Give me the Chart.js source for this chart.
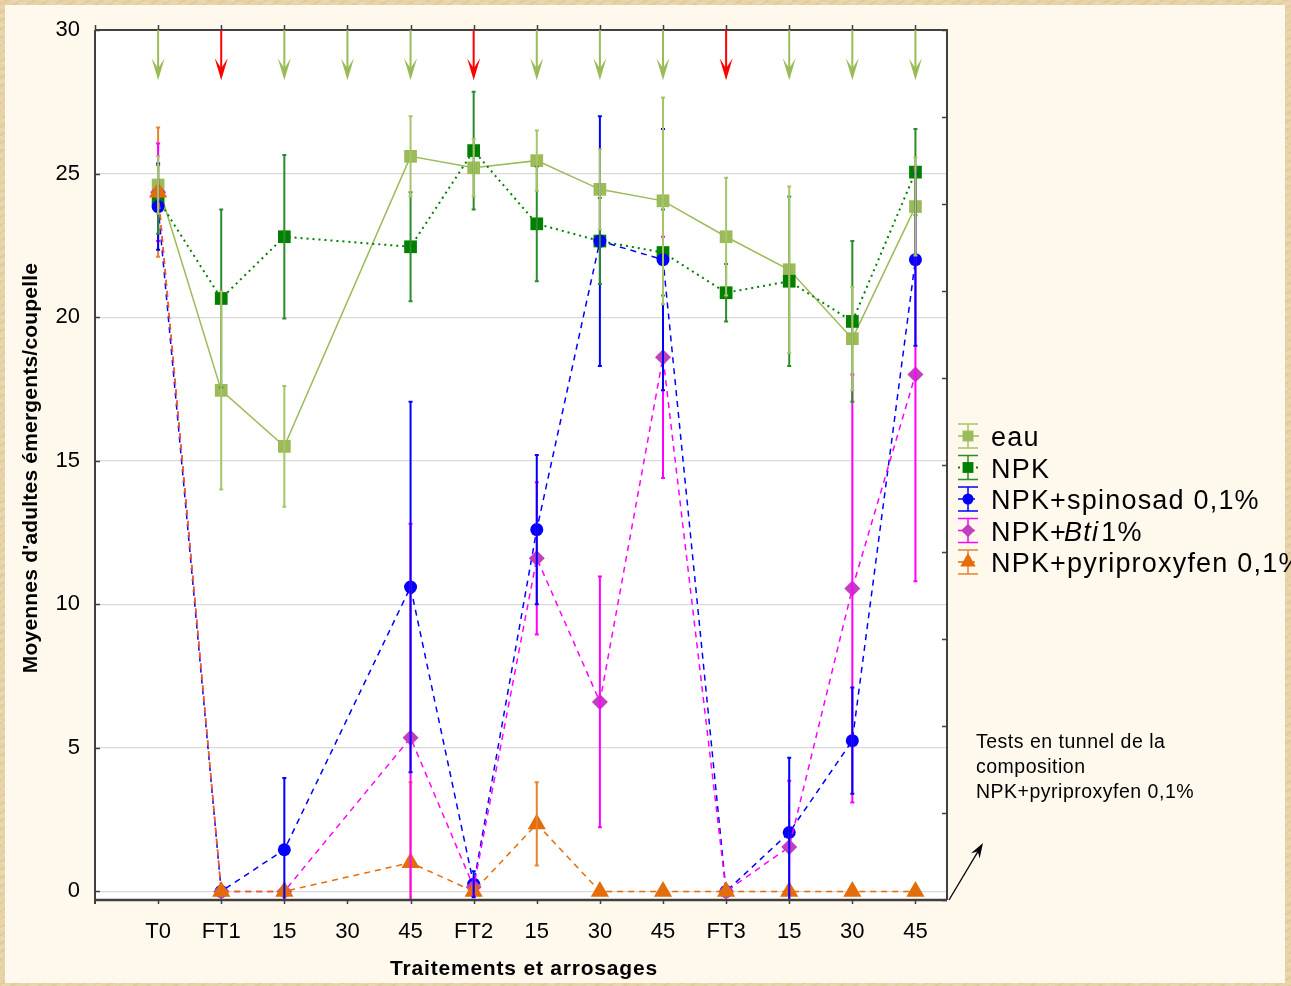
<!DOCTYPE html>
<html>
<head>
<meta charset="utf-8">
<script src="https://cdn.jsdelivr.net/npm/chart.js@4.4.1/dist/chart.umd.min.js"></script>
<style>
    html, body { margin: 0; padding: 0; }
    body {
        width: 1291px; height: 986px; overflow: hidden; position: relative;
        background-color: #e8d3a6;
        background-image:
            repeating-linear-gradient(17deg, rgba(255,255,255,0.10) 0 3px, rgba(0,0,0,0) 3px 9px),
            repeating-linear-gradient(-31deg, rgba(160,120,60,0.10) 0 2px, rgba(0,0,0,0) 2px 7px);
    }
    #panel { position: absolute; left: 5px; top: 5px; width: 1280px; height: 978px; background: #fef9ec; }
    #wrap { position: absolute; left: 0; top: 0; width: 1291px; height: 986px; }
</style>
</head>
<body>
<div id="panel"></div>
<div id="wrap"><canvas id="chart"></canvas></div>
<script>
// categories (traitements et arrosages)
var labels = ['T0', 'FT1', '15', '30', '45', 'FT2', '15', '30', '45', 'FT3', '15', '30', '45'];
var yTicks = [0, 5, 10, 15, 20, 25, 30];

// moyennes et barres d'erreur
var eau      = [24.6, 17.45, 15.5, null, 25.6, 25.2, 25.45, 24.45, 24.05, 22.8, 21.65, 19.25, 23.85];
var eauErr   = [1.0, 3.45, 2.1, null, 1.4, 1.0, 1.05, 1.4, 3.6, 2.05, 2.9, 1.8, 1.7];
var npk      = [24.1, 20.65, 22.8, null, 22.45, 25.8, 23.25, 22.65, 22.25, 20.85, 21.25, 19.85, 25.05];
var npkErr   = [1.2, 3.1, 2.85, null, 1.9, 2.05, 2.0, 1.5, 1.5, 1.0, 2.95, 2.8, 1.5];
var spinosad = [23.85, 0, 1.45, null, 10.6, 0.25, 12.6, 22.65, 22.0, 0, 2.05, 5.25, 22.0];
var spinErr  = [1.5, 0, 2.5, null, 6.45, 0.45, 2.6, 4.35, 4.55, 0, 2.6, 1.85, 3.0];
var bti      = [24.35, 0, 0, null, 5.35, 0.15, 11.6, 6.6, 18.6, 0, 1.55, 10.55, 18.0];
var btiErr   = [1.7, 0, 0, null, 7.45, 0.3, 2.65, 4.37, 4.2, 0, 2.3, 7.45, 7.2];
var pyri     = [24.35, 0, 0, null, 1.0, 0, 2.35, 0, 0, 0, 0, 0, 0];
var pyriErr  = [2.25, 0, 0, null, 2.8, 0, 1.45, 0, 0, 0, 0, 0, 0];

var arrowTip = 28.25; // bout des flèches en haut
var FONT = '"Liberation Sans", Arial, sans-serif';

function pts(arr) {
    return arr.map(function(v, i) { return { x: i, y: v }; });
}

var datasets = [
    { label: 'eau', data: pts(eau), err: eauErr, errColor: '#a8c46a',
      borderColor: '#9bbb59', backgroundColor: '#9bbb59', borderWidth: 1.5,
      pointStyle: 'rect', pointRadius: 9, order: 4 },
    { label: 'NPK', data: pts(npk), err: npkErr, errColor: '#2c8c2c',
      borderColor: '#008000', backgroundColor: '#008000', borderWidth: 2, borderDash: [2, 4],
      pointStyle: 'rect', pointRadius: 9, order: 3 },
    { label: 'NPK+spinosad 0,1%', data: pts(spinosad), err: spinErr, errColor: '#0000ff',
      borderColor: '#0000ff', backgroundColor: '#0000ff', borderWidth: 1.5, borderDash: [6, 5],
      pointStyle: 'circle', pointRadius: 6.5, order: 2 },
    { label: 'NPK+Bti 1%', data: pts(bti), err: btiErr, errColor: '#ff00ff',
      borderColor: '#ff00ff', backgroundColor: '#c040c0', borderWidth: 1.5, borderDash: [6, 5],
      pointStyle: 'rectRot', pointRadius: 8, order: 1 },
    { label: 'NPK+pyriproxyfen 0,1%', data: pts(pyri), err: pyriErr, errColor: '#e8822e',
      borderColor: '#e46c0a', backgroundColor: '#e46c0a', borderWidth: 1.5, borderDash: [6, 5],
      pointStyle: 'triangle', pointRadius: 10.5, order: 0 }
];
datasets.forEach(function(d) {
    d.spanGaps = true;
    d.tension = 0;
    d.pointBorderWidth = 0;
    d.pointBorderColor = d.backgroundColor;
    d.pointBackgroundColor = d.backgroundColor;
});

var decor = {
    id: 'decor',
    beforeDraw: function(chart) {
        var a = chart.chartArea, ctx = chart.ctx;
        ctx.save();
        ctx.fillStyle = '#ffffff';
        ctx.fillRect(a.left, a.top, a.right - a.left, a.bottom - a.top);
        ctx.restore();
    },
    afterDatasetsDraw: function(chart) {
        var a = chart.chartArea, ctx = chart.ctx;
        var xs = chart.scales.x, ys = chart.scales.y;

        // barres d'erreur
        ctx.save();
        ctx.beginPath();
        ctx.rect(a.left, a.top, a.right - a.left, a.bottom - a.top);
        ctx.clip();
        chart.data.datasets.slice().reverse().forEach(function(d) {
            ctx.strokeStyle = d.errColor;
            ctx.lineWidth = 2;
            d.data.forEach(function(p, i) {
                var e = d.err[i];
                if (p.y === null || !e) return;
                var x = xs.getPixelForValue(p.x);
                var y1 = ys.getPixelForValue(p.y + e), y2 = ys.getPixelForValue(p.y - e);
                ctx.beginPath();
                ctx.moveTo(x, y1); ctx.lineTo(x, y2);
                ctx.moveTo(x - 2, y1); ctx.lineTo(x + 2, y1);
                ctx.moveTo(x - 2, y2); ctx.lineTo(x + 2, y2);
                ctx.stroke();
            });
        });
        ctx.restore();

        // cadre et graduations
        ctx.save();
        ctx.strokeStyle = '#404040';
        ctx.lineWidth = 2;
        ctx.beginPath();
        ctx.moveTo(a.left, a.top); ctx.lineTo(a.right, a.top); ctx.lineTo(a.right, a.bottom);
        ctx.moveTo(a.left, a.top); ctx.lineTo(a.left, a.bottom + 4);
        ctx.stroke();
        ctx.lineWidth = 2.5;
        ctx.beginPath();
        ctx.moveTo(a.left - 1, a.bottom); ctx.lineTo(a.right, a.bottom);
        ctx.stroke();
        ctx.lineWidth = 1.5;
        ctx.beginPath();
        for (var i = -1; i < labels.length; i++) {
            var x = Math.round(xs.getPixelForValue(i)) + 0.5;
            ctx.moveTo(x, a.top); ctx.lineTo(x, a.top - 5);
            if (i >= 0) { ctx.moveTo(x, a.bottom); ctx.lineTo(x, a.bottom + 4); }
        }
        yTicks.forEach(function(v) {
            var y = Math.round(ys.getPixelForValue(v)) + 0.5;
            ctx.moveTo(a.left, y); ctx.lineTo(a.left + 5, y);
        });
        for (var k = 0; k <= 10; k++) {
            var yy = Math.round(a.top + k * (a.bottom - a.top) / 10) + 0.5;
            ctx.moveTo(a.right, yy); ctx.lineTo(a.right - 5, yy);
        }
        ctx.stroke();
        ctx.restore();

        // flèches (traitements en rouge, arrosages en vert)
        ctx.save();
        labels.forEach(function(l, i) {
            var x = xs.getPixelForValue(i);
            var tip = ys.getPixelForValue(arrowTip);
            var col = l.indexOf('FT') === 0 ? '#ff0000' : '#9bbb59';
            ctx.strokeStyle = col; ctx.fillStyle = col; ctx.lineWidth = 2;
            ctx.beginPath();
            ctx.moveTo(x, a.top); ctx.lineTo(x, tip - 8);
            ctx.stroke();
            ctx.beginPath();
            ctx.moveTo(x, tip);
            ctx.lineTo(x - 6.5, tip - 22);
            ctx.lineTo(x, tip - 12);
            ctx.lineTo(x + 6.5, tip - 22);
            ctx.closePath();
            ctx.fill();
        });
        ctx.restore();

        // légende
        ctx.save();
        var lx = a.right + 21, ly = 436, step = 31.5;
        chart.data.datasets.forEach(function(d, j) {
            var y = ly + j * step;
            ctx.strokeStyle = d.borderColor;
            ctx.lineWidth = d.borderWidth;
            ctx.setLineDash(d.borderDash || []);
            ctx.beginPath(); ctx.moveTo(lx - 10, y); ctx.lineTo(lx + 11, y); ctx.stroke();
            ctx.setLineDash([]);
            ctx.strokeStyle = d.errColor; ctx.lineWidth = 1.5;
            ctx.beginPath();
            ctx.moveTo(lx, y - 12); ctx.lineTo(lx, y + 12);
            ctx.moveTo(lx - 10, y - 12); ctx.lineTo(lx + 10, y - 12);
            ctx.moveTo(lx - 10, y + 12); ctx.lineTo(lx + 10, y + 12);
            ctx.stroke();
            ctx.fillStyle = d.backgroundColor;
            Chart.helpers.drawPoint(ctx, { pointStyle: d.pointStyle, radius: d.pointRadius * 0.85, rotation: 0, borderWidth: 0 }, lx, y);

            ctx.fillStyle = '#000';
            ctx.textBaseline = 'alphabetic';
            ctx.letterSpacing = '1.2px';
            var tx = lx + 23, by = y + 10;
            if (d.label === 'NPK+Bti 1%') {
                ctx.font = '27px ' + FONT;
                ctx.fillText('NPK+', tx, by);
                tx += ctx.measureText('NPK+').width - 3;
                ctx.font = 'italic 27px ' + FONT;
                ctx.fillText('Bti', tx, by);
                tx += ctx.measureText('Bti').width + 2;
                ctx.font = '27px ' + FONT;
                ctx.fillText('1%', tx, by);
            } else {
                ctx.font = '27px ' + FONT;
                ctx.fillText(d.label, tx, by);
            }
        });
        ctx.restore();

        // annotation
        ctx.save();
        ctx.fillStyle = '#000';
        ctx.font = '19.5px ' + FONT;
        ctx.letterSpacing = '0.5px';
        ctx.textBaseline = 'alphabetic';
        ['Tests en tunnel de la', 'composition', 'NPK+pyriproxyfen 0,1%'].forEach(function(t, i) {
            ctx.fillText(t, a.right + 29, 748 + i * 25);
        });
        var x0 = a.right + 2, y0 = a.bottom, x1 = a.right + 36, y1 = a.bottom - 57;
        var ang = Math.atan2(y1 - y0, x1 - x0);
        ctx.strokeStyle = '#000'; ctx.fillStyle = '#000'; ctx.lineWidth = 1.3;
        ctx.beginPath(); ctx.moveTo(x0, y0); ctx.lineTo(x1 - 10 * Math.cos(ang), y1 - 10 * Math.sin(ang)); ctx.stroke();
        ctx.beginPath();
        ctx.moveTo(x1, y1);
        ctx.lineTo(x1 - 15 * Math.cos(ang) + 5 * Math.sin(ang), y1 - 15 * Math.sin(ang) - 5 * Math.cos(ang));
        ctx.lineTo(x1 - 10 * Math.cos(ang), y1 - 10 * Math.sin(ang));
        ctx.lineTo(x1 - 15 * Math.cos(ang) - 5 * Math.sin(ang), y1 - 15 * Math.sin(ang) + 5 * Math.cos(ang));
        ctx.closePath(); ctx.fill();
        ctx.restore();

        // titres des axes
        ctx.save();
        ctx.fillStyle = '#000';
        ctx.font = 'bold 21px ' + FONT;
        ctx.textAlign = 'center';
        ctx.textBaseline = 'middle';
        ctx.letterSpacing = '0.8px';
        ctx.fillText('Traitements et arrosages', (a.left + a.right) / 2 + 3, 969);
        ctx.letterSpacing = '0.2px';
        ctx.translate(31, 468);
        ctx.rotate(-Math.PI / 2);
        ctx.fillText("Moyennes d'adultes émergents/coupelle", 0, 0);
        ctx.restore();
    }
};

var ctx = document.getElementById('chart').getContext('2d');
var chart = new Chart(ctx, {
    type: 'line',
    data: { datasets: datasets },
    options: {
        responsive: true,
        maintainAspectRatio: false,
        animation: false,
        events: [],
        layout: { padding: { left: 0, right: 344, top: 30, bottom: 0 } },
        plugins: { legend: { display: false }, tooltip: { enabled: false } },
        scales: {
            x: {
                type: 'linear', min: -1, max: 12.5,
                afterBuildTicks: function(s) { s.ticks = labels.map(function(l, i) { return { value: i }; }); },
                afterFit: function(s) { s.height = 86; },
                ticks: {
                    autoSkip: false, maxRotation: 0, color: '#000', padding: 19,
                    font: { size: 22, family: FONT },
                    callback: function(v) { return labels[v]; }
                },
                grid: { display: false, drawTicks: false },
                border: { display: false }
            },
            y: {
                type: 'linear', min: -0.3, max: 30,
                afterBuildTicks: function(s) { s.ticks = yTicks.map(function(v) { return { value: v }; }); },
                afterFit: function(s) { s.width = 95; },
                ticks: { color: '#000', padding: 15, font: { size: 22, family: FONT } },
                grid: { color: '#d9d9d9', lineWidth: 1.2, drawTicks: false },
                border: { display: false }
            }
        }
    },
    plugins: [decor]
});
</script>
</body>
</html>
